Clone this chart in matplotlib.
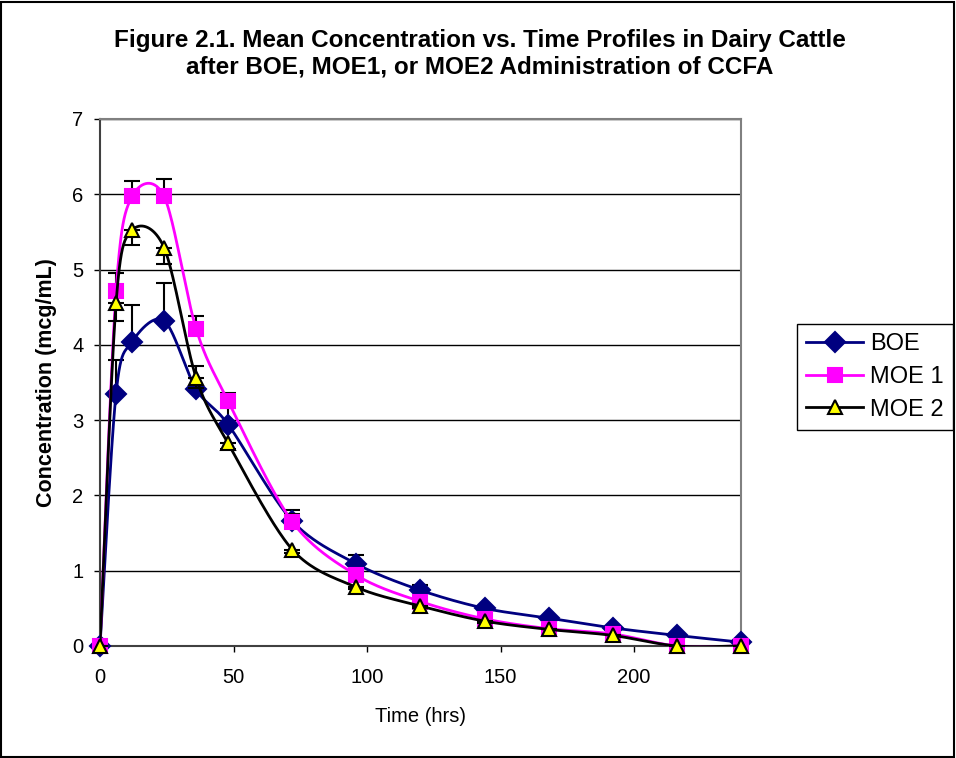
import numpy as np
import matplotlib
matplotlib.use("Agg")
import matplotlib.pyplot as plt
from matplotlib.patches import Rectangle

plt.rcParams['font.family'] = ['Liberation Sans', 'DejaVu Sans']

# sampling times (hrs)
time_hrs = [0, 6, 12, 24, 36, 48, 72, 96, 120, 144, 168, 192, 216, 240]

# mean concentrations (mcg/mL)
boe = [0, 3.35, 4.04, 4.32, 3.41, 2.94, 1.66, 1.09, 0.74, 0.50, 0.37, 0.24, 0.14, 0.05]
moe1 = [0, 4.71, 5.97, 5.97, 4.21, 3.25, 1.65, 0.94, 0.59, 0.36, 0.23, 0.16, 0.0, 0.0]
moe2 = [0, 4.55, 5.52, 5.29, 3.56, 2.69, 1.28, 0.78, 0.53, 0.33, 0.22, 0.14, 0.0, 0.0]

# one-sided error bars (BOE, MOE 1 plus; MOE 2 minus)
boe_err = [0, 0.45, 0.49, 0.50, 0.31, 0.22, 0.15, 0.12, 0.07, 0.03, 0.02, 0.02, 0.0, 0.0]
moe1_err = [0, 0.24, 0.21, 0.23, 0.17, 0.11, 0.10, 0.05, 0.04, 0.02, 0.02, 0.0, 0.0, 0.0]
moe2_err = [0, 0.23, 0.20, 0.22, 0.14, 0.08, 0.05, 0.03, 0.02, 0.02, 0.0, 0.0, 0.0, 0.0]

series_names = ["BOE", "MOE 1", "MOE 2"]
x_ticks = [0, 50, 100, 150, 200]
y_ticks = [0, 1, 2, 3, 4, 5, 6, 7]


def smooth(x, y, n=40):
    # Excel-style smoothed line: Catmull-Rom Bezier through the points
    pts = np.column_stack([x, y]).astype(float)
    P = np.vstack([pts[0], pts, pts[-1]])
    t = np.linspace(0, 1, n)[:, None]
    segs = []
    for i in range(len(pts) - 1):
        p0, p1, p2, p3 = P[i], P[i + 1], P[i + 2], P[i + 3]
        c1 = p1 + (p2 - p0) / 6.5
        c2 = p2 - (p3 - p1) / 6.5
        seg = (1 - t) ** 3 * p1 + 3 * (1 - t) ** 2 * t * c1 + 3 * (1 - t) * t ** 2 * c2 + t ** 3 * p2
        segs.append(seg)
    return np.vstack(segs)


fig = plt.figure(figsize=(9.56, 7.58), dpi=100)
ax = fig.add_axes([0.1046, 0.1478, 0.6705, 0.6953])

x = np.array(time_hrs)
zero = np.zeros(len(x))

styles = [
    dict(y=boe, err=[zero, boe_err], color="#000080", marker="D", ms=10, mfc="#000080", mec="#000080"),
    dict(y=moe1, err=[zero, moe1_err], color="#FF00FF", marker="s", ms=10.5, mfc="#FF00FF", mec="#FF00FF"),
    dict(y=moe2, err=[moe2_err, zero], color="black", marker="^", ms=10, mfc="#FFFF00", mec="black"),
]

handles = []
for k, (name, s) in enumerate(zip(series_names, styles)):
    z = 3 + k * 3
    ax.errorbar(x, s["y"], yerr=s["err"], fmt="none", ecolor="black",
                elinewidth=1.5, capsize=5.5, capthick=1.5, zorder=z)
    c = smooth(x, s["y"])
    ax.plot(c[:, 0], c[:, 1], color=s["color"], lw=2, zorder=z + 1)
    ax.plot(x, s["y"], ls="none", marker=s["marker"], ms=s["ms"],
            mfc=s["mfc"], mec=s["mec"], mew=1.5, zorder=z + 2, clip_on=False)
    h, = ax.plot([], [], color=s["color"], lw=2, marker=s["marker"], ms=s["ms"],
                 mfc=s["mfc"], mec=s["mec"], mew=1.5)
    handles.append(h)

ax.set_xlim(0, 240)
ax.set_ylim(0, 7)
ax.set_xticks(x_ticks)
ax.set_yticks(y_ticks)
ax.yaxis.grid(True, color="black", lw=1)
ax.set_axisbelow(True)
ax.tick_params(direction="out", length=4, width=1, labelsize=14.5)
ax.tick_params(axis="x", pad=12)
ax.tick_params(axis="y", pad=8)
for side in ["top", "right"]:
    ax.spines[side].set_color("#808080")
    ax.spines[side].set_linewidth(1.5)
for side in ["left", "bottom"]:
    ax.spines[side].set_color("#404040")
    ax.spines[side].set_linewidth(1.5)

ax.set_xlabel("Time (hrs)", fontsize=14.5, labelpad=14)
ax.set_ylabel("Concentration (mcg/mL)", fontsize=15.5, fontweight="bold", labelpad=11)

fig.text(0.502, 0.929, "Figure 2.1. Mean Concentration vs. Time Profiles in Dairy Cattle\n"
         "after BOE, MOE1, or MOE2 Administration of CCFA",
         ha="center", va="center", fontsize=17.5, fontweight="bold", linespacing=1.2)

leg = fig.legend(handles, series_names, loc="center left",
                 bbox_to_anchor=(797 / 956, 1 - 377 / 758), fontsize=17,
                 frameon=True, fancybox=False, edgecolor="black", framealpha=1,
                 handlelength=2.4, labelspacing=0.45, borderpad=0.4, handletextpad=0.3,
                 borderaxespad=0)
leg.get_frame().set_linewidth(1)

fig.patches.append(Rectangle((0.001, 0.001), 0.997, 0.997, transform=fig.transFigure,
                             fill=False, edgecolor="black", lw=1.5))

fig.savefig("out.png", dpi=100)
